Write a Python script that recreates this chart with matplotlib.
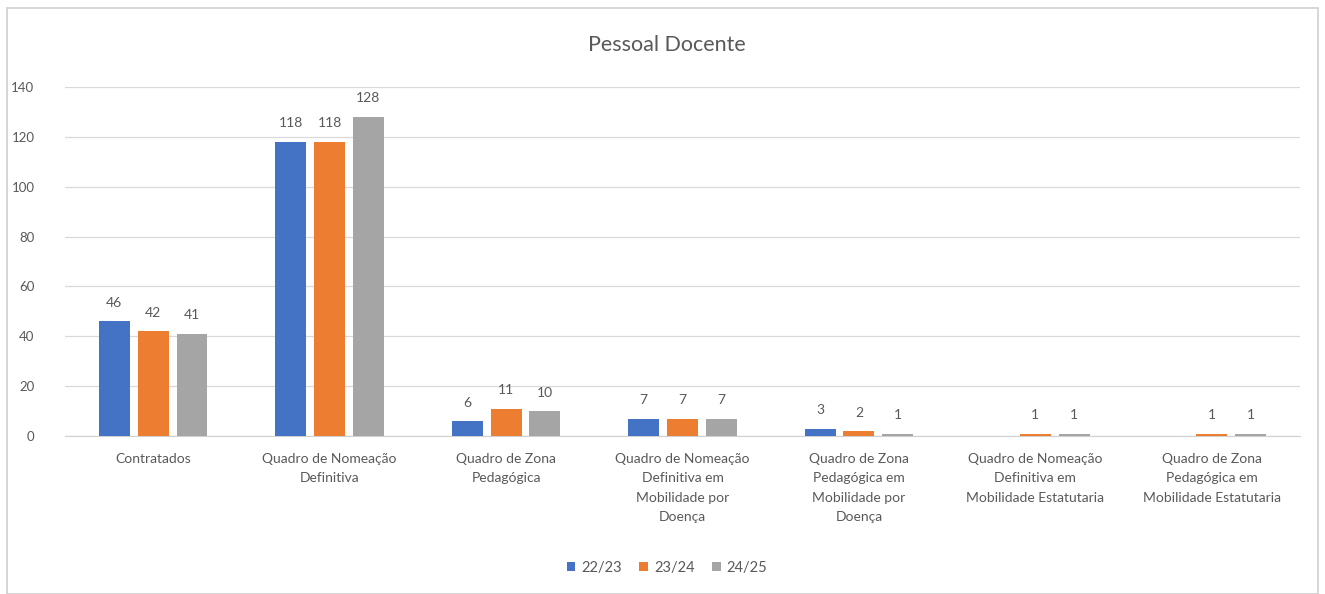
import numpy as np
import matplotlib.pyplot as plt
from matplotlib.patches import Rectangle

plt.rcParams['font.family'] = ['Lato', 'DejaVu Sans']

categorias = ["Contratados",
              "Quadro de Nomeação\nDefinitiva",
              "Quadro de Zona\nPedagógica",
              "Quadro de Nomeação\nDefinitiva em\nMobilidade por\nDoença",
              "Quadro de Zona\nPedagógica em\nMobilidade por\nDoença",
              "Quadro de Nomeação\nDefinitiva em\nMobilidade Estatutaria",
              "Quadro de Zona\nPedagógica em\nMobilidade Estatutaria"]
anos = ["22/23", "23/24", "24/25"]
v2223 = [46, 118, 6, 7, 3, 0, 0]
v2324 = [42, 118, 11, 7, 2, 1, 1]
v2425 = [41, 128, 10, 7, 1, 1, 1]
cores = ["#4472C4", "#ED7D31", "#A5A5A5"]
texto = "#595959"

fig = plt.figure(figsize=(13.25, 5.94), dpi=100)
ax = fig.add_axes([65/1325, 158/594, 1235/1325, 349/594])

# moldura do gráfico
fig.patches.append(Rectangle((7/1325, 0), 1311/1325, 586/594, transform=fig.transFigure,
                             fill=False, edgecolor="#D0D0D0", linewidth=1.2))

x = np.arange(len(categorias))
w = 0.175
passo = 0.22
for i, (serie, cor, ano) in enumerate(zip([v2223, v2324, v2425], cores, anos)):
    pos = x + (i - 1) * passo
    ax.bar(pos, serie, w, color=cor, label=ano, zorder=3)
    for p, v in zip(pos, serie):
        if v > 0:
            ax.text(p, v + 5, str(v), ha="center", va="bottom", fontsize=10, color=texto)

ax.set_xlim(-0.5, len(categorias) - 0.5)
ax.set_ylim(0, 140)
ax.set_yticks(range(0, 141, 20))
ax.yaxis.grid(True, color="#D9D9D9", linewidth=0.9, zorder=0)
for s in ["top", "right", "left"]:
    ax.spines[s].set_visible(False)
ax.spines["bottom"].set_color("#D0D0D0")
ax.tick_params(axis="y", length=0, labelsize=9.5, labelcolor=texto, pad=22)
ax.tick_params(axis="x", length=0, pad=12)
ax.set_xticks(x)
ax.set_xticklabels(categorias, fontsize=10, color=texto, linespacing=1.75, va="top")

fig.text(667/1325, 1 - 45/594, "Pessoal Docente", ha="center", va="center",
         fontsize=15.5, color=texto)

ax.legend(loc="center", bbox_to_anchor=(667/1325, 1 - 568/594), bbox_transform=fig.transFigure,
          ncol=3, frameon=False, fontsize=10.5, labelcolor=texto, handlelength=0.6,
          handleheight=0.6, handletextpad=0.4, columnspacing=1.2)

plt.savefig("out.png", dpi=100)
